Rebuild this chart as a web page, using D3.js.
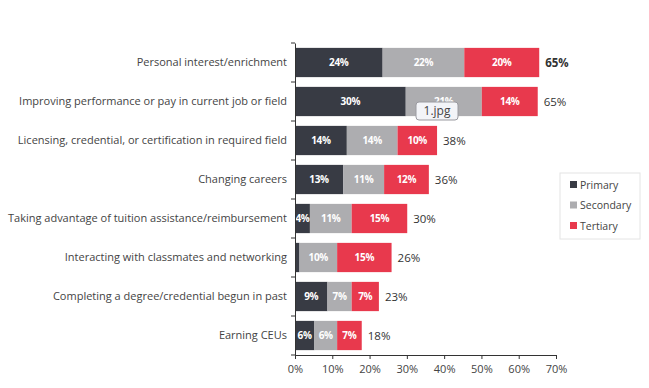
<!DOCTYPE html>
<html>
<head>
<meta charset="utf-8">
<script src="https://cdn.jsdelivr.net/npm/d3@7"></script>
<style>
  html, body { margin: 0; padding: 0; background: #ffffff; }
  svg { display: block; }
  text { font-family: "Open Sans", "Lato", sans-serif; }
</style>
</head>
<body>
<svg id="chart" width="649" height="388"></svg>
<script>
// ---- data ----
const categories = [
  "Personal interest/enrichment",
  "Improving performance or pay in current job or field",
  "Licensing, credential, or certification in required field",
  "Changing careers",
  "Taking advantage of tuition assistance/reimbursement",
  "Interacting with classmates and networking",
  "Completing a degree/credential begun in past",
  "Earning CEUs"
];
const seriesNames = ["Primary", "Secondary", "Tertiary"];
const primary   = [23.5, 29.7, 13.9, 12.9, 4.0, 1.2, 8.7, 5.2];
const secondary = [21.9, 20.4, 13.6, 11.0, 11.2, 10.1, 6.5, 6.1];
const tertiary  = [20.1, 15.0, 10.6, 12.0, 14.9, 14.6, 7.3, 6.6];
const primaryLabels   = ["24%", "30%", "14%", "13%", "4%", "", "9%", "6%"];
const secondaryLabels = ["22%", "21%", "14%", "11%", "11%", "10%", "7%", "6%"];
const tertiaryLabels  = ["20%", "14%", "10%", "12%", "15%", "15%", "7%", "7%"];
const totalLabels = ["65%", "65%", "38%", "36%", "30%", "26%", "23%", "18%"];
const xTicks = [0, 10, 20, 30, 40, 50, 60, 70];
const colors = ["#383b44", "#adadb0", "#e8394d"];

// ---- chart ----
const svg = d3.select("#chart");
const margin = { left: 295, right: 93, top: 43, bottom: 33 };
const W = 649, H = 388;

const x = d3.scaleLinear().domain([0, 70]).range([margin.left, W - margin.right]);
const y = d3.scaleBand().domain(categories).range([margin.top, H - margin.bottom]).paddingInner(0.25).paddingOuter(0.125);

const stackData = categories.map((c, i) => ({ cat: c, Primary: primary[i], Secondary: secondary[i], Tertiary: tertiary[i] }));
const stacked = d3.stack().keys(seriesNames)(stackData);
const labelArrays = [primaryLabels, secondaryLabels, tertiaryLabels];

// bars
stacked.forEach((layer, k) => {
  const g = svg.append("g");
  g.selectAll("rect").data(layer).enter().append("rect")
    .attr("x", d => x(d[0]))
    .attr("y", d => y(d.data.cat))
    .attr("width", d => x(d[1]) - x(d[0]))
    .attr("height", y.bandwidth())
    .attr("fill", colors[k]);
  g.selectAll("text").data(layer).enter().append("text")
    .attr("x", d => (x(d[0]) + x(d[1])) / 2)
    .attr("y", d => y(d.data.cat) + y.bandwidth() / 2)
    .attr("dy", "0.36em")
    .attr("text-anchor", "middle")
    .attr("fill", "#ffffff")
    .attr("font-size", "10px")
    .attr("font-weight", "bold")
    .attr("letter-spacing", "-0.3px")
    .text((d, i) => labelArrays[k][i]);
});

// totals
svg.append("g").selectAll("text").data(stacked[2]).enter().append("text")
  .attr("x", d => x(d[1]) + 6)
  .attr("y", d => y(d.data.cat) + y.bandwidth() / 2)
  .attr("dy", "0.36em")
  .attr("fill", "#333")
  .attr("font-size", "11.5px")
  .attr("font-weight", (d, i) => i === 0 ? "bold" : "normal")
  .text((d, i) => totalLabels[i]);

// y axis
const yAxis = svg.append("g")
  .attr("transform", `translate(${margin.left},0)`)
  .call(d3.axisLeft(y).tickSize(0).tickPadding(8));
yAxis.select(".domain").attr("stroke", "#333");
yAxis.selectAll("text").attr("font-size", "11px").attr("fill", "#444");
// band separators ticks
const bounds = categories.map(c => y(c) - y.step() * y.paddingInner() / 2);
bounds.push(H - margin.bottom);
svg.append("g").selectAll("line").data(bounds).enter().append("line")
  .attr("x1", margin.left - 4).attr("x2", margin.left)
  .attr("y1", d => d).attr("y2", d => d)
  .attr("stroke", "#333");

// x axis
const xAxis = svg.append("g")
  .attr("transform", `translate(0,${H - margin.bottom})`)
  .call(d3.axisBottom(x).tickValues(xTicks).tickFormat(d => d + "%").tickSize(4).tickSizeOuter(0).tickPadding(6));
xAxis.select(".domain").attr("stroke", "#333");
xAxis.selectAll(".tick line").attr("stroke", "#333");
xAxis.selectAll("text").attr("font-size", "11px").attr("fill", "#444");

// legend
const lg = svg.append("g").attr("transform", "translate(560,173)");
lg.append("rect").attr("width", 80).attr("height", 66).attr("fill", "#fff").attr("stroke", "#e4e4e4");
seriesNames.forEach((s, k) => {
  lg.append("rect").attr("x", 10).attr("y", 8 + k * 20.5).attr("width", 7).attr("height", 7).attr("fill", colors[k]);
  lg.append("text").attr("x", 20).attr("y", 12 + k * 20.5).attr("dy", "0.36em")
    .attr("font-size", "10.5px").attr("fill", "#444").text(s);
});

// screenshot tooltip overlay
const tip = svg.append("g").attr("transform", "translate(416,102)");
tip.append("rect").attr("width", 42).attr("height", 18).attr("rx", 3)
  .attr("fill", "#f3f4f8").attr("stroke", "#9a9aa0");
tip.append("text").attr("x", 21).attr("y", 9).attr("dy", "0.36em").attr("text-anchor", "middle")
  .attr("font-size", "12px").attr("fill", "#444").text("1.jpg");
</script>
</body>
</html>
